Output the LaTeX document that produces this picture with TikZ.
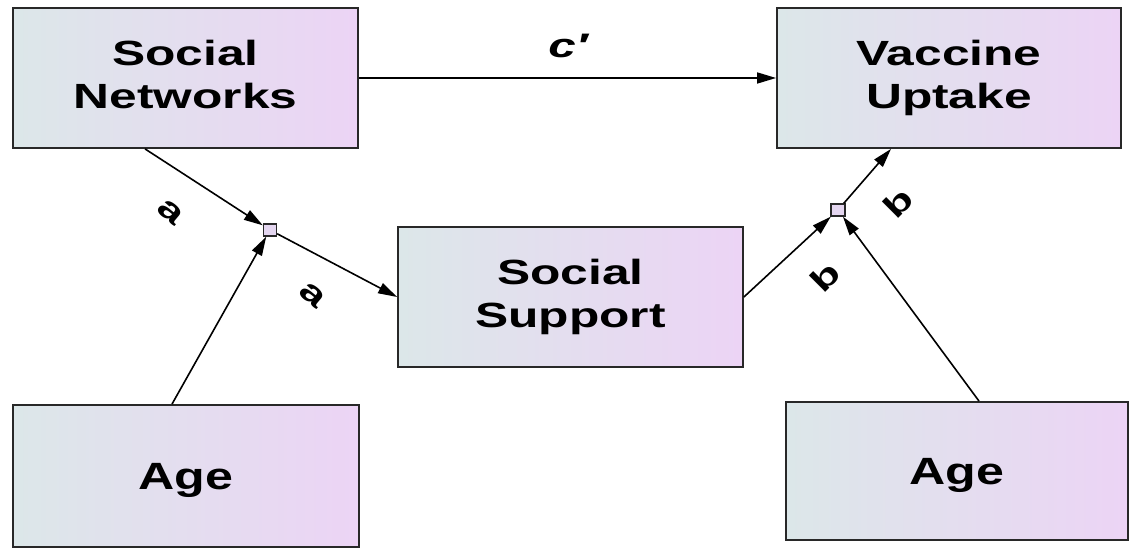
\documentclass[tikz,border=0pt]{standalone}
\usepackage{fontspec}
\setmainfont{Liberation Sans}
\usetikzlibrary{arrows.meta,calc}
\definecolor{gradL}{RGB}{220,231,233}
\definecolor{gradR}{RGB}{236,212,245}
\definecolor{edgegray}{RGB}{40,40,40}
\definecolor{sqfill}{RGB}{228,214,240}
\newcommand{\twoline}[2]{\scalebox{1.42}[1]{\begin{tabular}{@{}c@{}}#1\\#2\end{tabular}}}
\newcommand{\agetext}{\raisebox{-13.5pt}[0pt][0pt]{\scalebox{1.32}[1]{Age}}}
\begin{document}
\begin{tikzpicture}[x=1pt,y=1pt,
  box/.style={draw=edgegray, line width=1.8pt, left color=gradL, right color=gradR,
    minimum width=345pt, minimum height=140pt, inner sep=0pt,
    font=\fontsize{35}{43}\selectfont\bfseries},
  agebox/.style={box, font=\fontsize{38}{44}\selectfont\bfseries},
  joint/.style={draw=edgegray, line width=1.4pt, fill=sqfill, minimum width=13pt,
    minimum height=12pt, inner sep=0pt},
  conn/.style={line width=1.6pt, -{Triangle[length=19pt,width=11pt]}},
  lab/.style={font=\fontsize{32}{36}\selectfont\bfseries, inner sep=0pt}]
\useasboundingbox (0,0) rectangle (1130,548);
\node[box] (SN) at (185.5,470) {\twoline{Social}{Networks}};
\node[box, minimum width=344pt] (VU) at (949,470) {\twoline{Vaccine}{Uptake}};
\node[box] (SS) at (570.5,251) {\twoline{Social}{Support}};
\node[agebox, minimum width=346pt, minimum height=142pt] (AL) at (186,72) {\agetext};
\node[agebox, minimum width=342pt, minimum height=138pt] (AR) at (957,77) {\agetext};
\node[joint] (QL) at (270,318) {};
\node[joint, minimum width=14pt] (QR) at (838,338) {};
\draw[conn] (SN.east) -- (VU.west);
\draw[conn] ([xshift=-40.5pt]SN.south) -- (QL);
\draw[conn] (QL) -- (SS.west);
\draw[conn] ([xshift=-14pt]AL.north) -- (QL);
\draw[conn] (SS.east) -- (QR);
\draw[conn] (QR) -- ([xshift=-58pt]VU.south);
\draw[conn] ([xshift=22pt]AR.north) -- (QR);
\node[lab, font=\fontsize{34}{38}\selectfont\bfseries\itshape] (cl) at (568,502) {\scalebox{1.45}[1]{c\char"2032}};
\node[lab, rotate=-40] (a1) at (170,336) {\scalebox{1.4}[1]{a}};
\node[lab, rotate=-40] (a2) at (312,253) {\scalebox{1.4}[1]{a}};
\node[lab, rotate=45] (b1) at (825,271) {\scalebox{1.4}[1]{b}};
\node[lab, rotate=45] (b2) at (898,345) {\scalebox{1.4}[1]{b}};
\end{tikzpicture}
\end{document}
